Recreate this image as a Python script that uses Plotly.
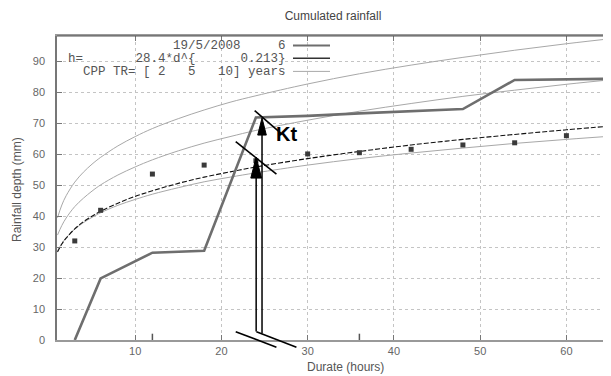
import plotly.graph_objects as go

# ---------------- data ----------------
# duration grid used for the depth-duration curves (hours)
curve_durations = [1, 1.5, 2, 3, 4, 5, 6, 8, 10, 12, 15, 18, 21, 24, 30, 36, 42, 48, 54, 60, 66]
# fitted curve h = 28.4*d^0.213 (dashed)
fit_depth = [28.4, 31.0, 32.9, 35.9, 38.2, 40.0, 41.6, 44.2, 46.4, 48.2, 50.6, 52.6,
             54.3, 55.9, 58.6, 60.9, 63.0, 64.8, 66.4, 67.9, 69.3]
# CPP curves for return periods 2, 5, 10 years (thin grey)
cpp_tr2 = [28.8, 31.2, 33.0, 35.8, 37.9, 39.6, 41.1, 43.5, 45.4, 47.1, 49.2, 51.1,
           52.6, 54.0, 56.5, 58.6, 60.4, 62.0, 63.5, 64.8, 66.0]
cpp_tr5 = [33.9, 37.0, 39.4, 43.1, 45.8, 48.1, 50.1, 53.3, 55.9, 58.2, 61.1, 63.6,
           65.7, 67.7, 71.0, 73.9, 76.4, 78.7, 80.7, 82.6, 84.3]
cpp_tr10 = [39.5, 43.6, 46.6, 51.0, 54.2, 56.8, 59.0, 62.7, 65.7, 68.3, 71.5, 74.3,
            76.8, 78.9, 82.7, 86.0, 88.8, 91.3, 93.6, 95.7, 97.6]

# cumulated rainfall of the event 19/5/2008 (thick grey line)
event_hours = [3, 6, 12, 18, 24, 30, 36, 42, 48, 54, 60, 66]
event_depth = [0, 19.9, 28.2, 28.8, 71.9, 72.4, 73.2, 74.0, 74.6, 84.0, 84.1, 84.4]

# maximum depths per duration (dots)
max_hours = [3, 6, 12, 18, 24, 30, 36, 42, 48, 54, 60]
max_depth = [32.0, 41.9, 53.6, 56.5, 57.9, 60.1, 60.5, 61.6, 63.0, 63.7, 66.0]

# small marks on the time axis
mark_hours = [12, 36]
mark_depth = [0, 0]

x_ticks = [10, 20, 30, 40, 50, 60]
y_ticks = [0, 10, 20, 30, 40, 50, 60, 70, 80, 90]

legend_rows = ["19/5/2008     6", "h=       28.4*d^{      0.213}", "CPP TR= [ 2   5   10] years"]

# ---------------- figure ----------------
# the page body has an 8 px margin; the figure is sized so that the
# plot area lands at x 57..611 and y 36..340 of the 611x376 window
OFF = 8
FIG_W, FIG_H = 611 - OFF, 376 - OFF
PL, PT, PB = 57, 36, 340          # plot area edges in window pixels
PW, PH = 611 - PL, PB - PT

X0, X1 = 0.94, 65.17
Y0, Y1 = 0.0, 98.2


def px(x):
    return (x - X0) / (X1 - X0)


def py(y):
    return (y - Y0) / (Y1 - Y0)


def pgx(xpix):
    return (xpix - PL) / PW


def pgy(ypix):
    return (PB - ypix) / PH


GRID = "#c4c4c4"
LIGHT = "#a8a8a8"
THICK = "#6e6e6e"

fig = go.Figure()

for ys in (cpp_tr2, cpp_tr5, cpp_tr10):
    fig.add_trace(go.Scatter(x=curve_durations, y=ys, mode="lines",
                             line=dict(color=LIGHT, width=1, shape="spline"),
                             hoverinfo="skip", showlegend=False))

fig.add_trace(go.Scatter(x=curve_durations, y=fit_depth, mode="lines",
                         line=dict(color="#111111", width=1.1, dash="5px,2px", shape="spline"),
                         showlegend=False))

fig.add_trace(go.Scatter(x=event_hours, y=event_depth, mode="lines",
                         line=dict(color=THICK, width=2.6), showlegend=False))

fig.add_trace(go.Scatter(x=max_hours, y=max_depth, mode="markers",
                         marker=dict(symbol="square", size=5, color="#3a3a3a"),
                         showlegend=False))

fig.add_trace(go.Scatter(x=mark_hours, y=mark_depth, mode="markers",
                         marker=dict(symbol="line-ns", size=9,
                                     line=dict(color="#555555", width=1.5)),
                         showlegend=False))

shapes = []
# top frame line
shapes.append(dict(type="line", xref="paper", yref="paper", x0=0, x1=1, y0=1, y1=1,
                   line=dict(color="#555555", width=1.2)))


def seg(xa, ya, xb, yb, w=1.5):
    shapes.append(dict(type="line", xref="paper", yref="paper",
                       x0=px(xa), y0=py(ya), x1=px(xb), y1=py(yb),
                       line=dict(color="black", width=w)))


def head(xc, ybase, ytip, hw):
    path = "M {} {} L {} {} L {} {} Z".format(px(xc - hw), py(ybase), px(xc + hw), py(ybase),
                                              px(xc), py(ytip))
    shapes.append(dict(type="path", xref="paper", yref="paper", path=path,
                       fillcolor="black", line=dict(color="black", width=1)))


# lower arrow
seg(24.03, 2.75, 24.03, 52.5, 1.5)
head(24.03, 52.3, 59.1, 0.62)
# upper arrow
seg(24.71, 2.16, 24.71, 66.4, 1.5)
head(24.71, 66.2, 71.7, 0.50)
# tangent dashes
seg(23.86, 74.06, 26.88, 66.86, 1.6)
seg(21.66, 64.05, 26.38, 53.62, 1.6)
seg(21.66, 2.68, 26.38, -2.36, 1.6)
seg(24.06, 2.68, 28.70, -2.36, 1.6)

# legend line samples (right of the text)
row_y = [45.5, 58.3, 71.4]
sample_styles = [dict(color=THICK, width=2), dict(color="#333333", width=1.4), dict(color=LIGHT, width=1)]
for ry, st in zip(row_y, sample_styles):
    shapes.append(dict(type="line", xref="paper", yref="paper",
                       x0=pgx(293), x1=pgx(330), y0=pgy(ry), y1=pgy(ry), line=st))

annotations = []
for ry, txt in zip(row_y, legend_rows):
    annotations.append(dict(xref="paper", yref="paper", x=pgx(288), y=pgy(ry),
                            xanchor="right", yanchor="middle", showarrow=False,
                            height=13, valign="middle",
                            text=txt.replace(" ", "&nbsp;"),
                            font=dict(family="Liberation Mono, DejaVu Sans Mono, monospace", size=12.5,
                                      color="#555555")))

annotations.append(dict(xref="paper", yref="paper", x=px(27.57), y=py(66.5), showarrow=False,
                        text="<b>Kt</b>", xanchor="center", yanchor="middle",
                        font=dict(family="Liberation Sans, Arial", size=20, color="black")))

annotations.append(dict(xref="paper", yref="paper", x=pgx(345), y=pgy(367),
                        showarrow=False, text="Durate (hours)", xanchor="center", yanchor="middle",
                        font=dict(family="Liberation Sans, Arial", size=12, color="#555555")))
annotations.append(dict(xref="paper", yref="paper", x=pgx(17), y=pgy(190),
                        showarrow=False, text="Rainfall depth (mm)", textangle=-90,
                        xanchor="center", yanchor="middle",
                        font=dict(family="Liberation Sans, Arial", size=12, color="#555555")))

fig.update_layout(
    width=FIG_W, height=FIG_H,
    margin=dict(l=PL - OFF, r=0, t=PT - OFF, b=376 - PB),
    paper_bgcolor="white", plot_bgcolor="white",
    title=dict(text="Cumulated rainfall", x=(333 - OFF) / FIG_W, xanchor="center",
               y=1 - (16 - OFF) / FIG_H, yanchor="middle",
               font=dict(family="Liberation Sans, Arial", size=12, color="#444444")),
    shapes=shapes, annotations=annotations,
    showlegend=False,
)

fig.update_xaxes(range=[X0, X1], tickvals=x_ticks, ticktext=[str(v) for v in x_ticks],
                 showgrid=True, gridcolor=GRID, griddash="dot", gridwidth=1,
                 showline=True, linecolor="#999999", linewidth=2,
                 ticks="inside", ticklen=5, tickcolor="#777777", mirror="ticks",
                 zeroline=False,
                 tickfont=dict(family="Liberation Sans, Arial", size=11, color="#666666"))
fig.update_yaxes(range=[Y0, Y1], tickvals=y_ticks, ticktext=[str(v) for v in y_ticks],
                 showgrid=True, gridcolor=GRID, griddash="dot", gridwidth=1,
                 showline=True, linecolor="#777777", linewidth=1.5,
                 ticks="inside", ticklen=5, tickcolor="#777777",
                 zeroline=False, ticklabelstandoff=8,
                 tickfont=dict(family="Liberation Sans, Arial", size=11, color="#666666"))

fig.write_html("out.html")
